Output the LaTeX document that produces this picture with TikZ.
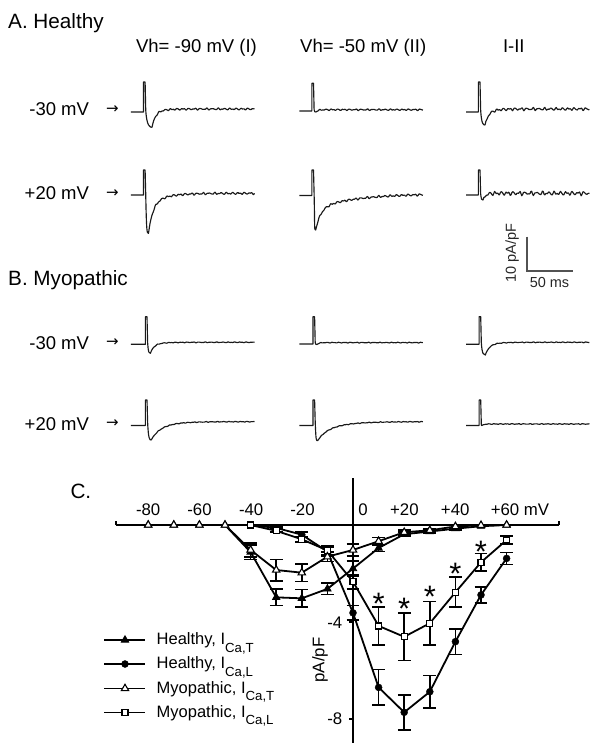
\documentclass[tikz,border=0pt]{standalone}
\usepackage{fontspec}
\setmainfont{Liberation Sans}
\newfontfamily\dejavu{DejaVu Sans}
\usetikzlibrary{shapes.geometric}
\newcommand\myfs[1]{\fontsize{#1}{#1}\selectfont}
\newcommand\mysub[1]{\raisebox{-7.5pt}{\myfs{13.2}#1}}
\newcommand\na{1}
\newcommand\trace[9]{%
 \draw[trace] (#1,#3) -- (#2,#3) -- (#2,#5) -- ({#2+1.6},#5) -- ({#2+2.2},#4)
   .. controls ({#2+3},#7) and ({#6-1.5},#7) .. (#6,#7)
   -- plot[domain=#6:#8, samples=130] (\x,{#4+(#7-#4)*rec(\x-#6,#9)+\na*nz(\x-#6+#6/50)*(1-exp(-min((\x-#6)/2,9)))});}
\newcommand\ebars[1]{%
 \foreach \v/\m/\e in #1 {%
   \ifdim\e pt>0pt
    \draw[ebar] (\v,{\m-\e}) -- (\v,{\m+\e});
    \draw[ebar] ({\v-2.5},{\m+\e}) -- ({\v+2.5},{\m+\e});
    \draw[ebar] ({\v-2.5},{\m-\e}) -- ({\v+2.5},{\m-\e});
   \fi
 }}
\tikzset{
 trace/.style={line width=1.15pt, black!90, line join=round},
 dline/.style={line width=1.8pt, black, line join=round},
 ebar/.style={line width=1.7pt, black},
 axisl/.style={line width=1.9pt, black},
 ftri/.style={regular polygon, regular polygon sides=3, fill=black, draw=black, line width=0.8pt, minimum size=8.5pt, inner sep=0pt},
 otri/.style={regular polygon, regular polygon sides=3, fill=white, draw=black, line width=1.1pt, minimum size=8.5pt, inner sep=0pt},
 fcirc/.style={circle, fill=black, draw=black, minimum size=7pt, inner sep=0pt},
 osq/.style={rectangle, fill=white, draw=black, line width=1.2pt, minimum size=6pt, inner sep=0pt},
 title/.style={inner sep=0pt, font=\myfs{20.7}},
 head/.style={inner sep=0pt, font=\myfs{18.5}},
 arr/.style={inner sep=0pt, font=\dejavu\myfs{15}},
 tick/.style={inner sep=0pt, font=\myfs{16.8}},
 legt/.style={inner sep=0pt, font=\myfs{16.5}},
 sbar/.style={line width=1.8pt, black!68},
 sblbl/.style={inner sep=0pt, font=\myfs{14.5}, black!85},
 starmark/.style={inner sep=0pt, font=\myfs{31}},
}
\begin{document}
\begin{tikzpicture}[x=1pt, y=-1pt,
  declare function={rec(\tx,\wx,\px,\qx)=\wx*exp(-min(\tx/\px,9))+(1-\wx)*exp(-min(\tx/\qx,9));
                    nz(\tx)=sin(61*\tx)+0.6*sin(97*\tx+40)+0.4*sin(127*\tx+75);}]
\useasboundingbox (0,0) rectangle (600,751);

% ---------- Panel A ----------
\node[title, anchor=base west] (tA) at (8,28.5) {A. Healthy};
\node[head, anchor=base] (h1) at (196.5,52.3) {Vh= -90 mV (I)};
\node[head, anchor=base] (h2) at (363.2,52.3) {Vh= -50 mV (II)};
\node[head, anchor=base] (h3) at (513.8,52.3) {I-II};
\node[head, anchor=base east] (ra1) at (89.2,116) {-30 mV};
\node[head, anchor=base east] (ra2) at (89.2,200) {+20 mV};
\node[arr] (aa1) at (112.5,109.3) {→};
\node[arr] (aa2) at (112.5,193.3) {→};

\renewcommand\na{0.6}
\trace{130.9}{143.5}{112}{109}{82}{152}{127.3}{254.5}{0.85,3.5,10}
\renewcommand\na{0.5}
\trace{299.3}{311.9}{111}{109.7}{83.3}{316}{112}{422.9}{1,2,2}
\renewcommand\na{0.9}
\trace{466.1}{478.4}{112}{109}{82}{485}{125}{589.4}{0.85,3.5,10}
\renewcommand\na{0.7}
\trace{130.9}{143.5}{195}{193.3}{170}{148.5}{233.3}{254.5}{0.75,4.5,16}
\trace{299.3}{311.9}{195.5}{193.7}{170}{315.7}{230}{422.9}{0.6,5,40}
\renewcommand\na{1.3}
\trace{466.1}{478.4}{195}{193.3}{170}{483}{200}{589.4}{1,2.5,2.5}

% scale bar
\coordinate (sbt) at (526.7,236.7);
\coordinate (sbc) at (526.7,270.7);
\coordinate (sbr) at (572.7,270.7);
\draw[sbar] (sbt) -- (sbc) -- (sbr);
\node[sblbl, rotate=90] (sbv) at (512,253) {10 pA/pF};
\node[sblbl] (sbh) at (549.5,282.7) {50 ms};

% ---------- Panel B ----------
\node[title, anchor=base west] (tB) at (8,285.3) {B. Myopathic};
\node[head, anchor=base east] (rb1) at (89.2,349) {-30 mV};
\node[head, anchor=base east] (rb2) at (89.2,430.7) {+20 mV};
\node[arr] (ab1) at (112.5,342.3) {→};
\node[arr] (ab2) at (112.5,424) {→};

\renewcommand\na{0.25}
\trace{130.9}{145.4}{344.3}{342.3}{316.7}{150.4}{353.3}{254.5}{0.8,3.5,10}
\trace{299.3}{313}{344}{342.6}{316.7}{317}{344.5}{422.9}{1,2,2}
\trace{466.1}{479.1}{344.3}{342.3}{316.7}{485.3}{355}{589.4}{0.8,4,10}
\trace{130.9}{145.4}{425.5}{421.7}{400}{151.2}{440}{254.5}{0.5,8,15}
\trace{299.3}{313}{425.5}{421.7}{400}{317.6}{440.7}{422.9}{0.4,8,20}
\trace{466.1}{479.1}{425.5}{424}{400}{482}{425.5}{589.4}{1,2,2}

% ---------- Panel C ----------
\node[title, anchor=base west] (tC) at (70.3,498.5) {C.};
\node[tick, anchor=base] (xl1) at (148.2,515.4) {-80};
\node[tick, anchor=base] (xl2) at (199.5,515.4) {-60};
\node[tick, anchor=base] (xl3) at (251.2,515.4) {-40};
\node[tick, anchor=base] (xl4) at (302.5,515.4) {-20};
\node[tick, anchor=base] (xl5) at (363,515.4) {0};
\node[tick, anchor=base] (xl6) at (404.4,515.4) {+20};
\node[tick, anchor=base] (xl7) at (455.2,515.4) {+40};
\node[tick, anchor=base west] (xl8) at (490.6,515.4) {+60 mV};
\node[tick, anchor=east] (yl4) at (342.5,623) {-4};
\node[tick, anchor=east] (yl8) at (342.5,719) {-8};
\node[tick, rotate=90] (ylab) at (320,660) {pA/pF};

\def\dHT{-80/0/0,-70/0/0,-60/0/0,-50/0/0,-40/-1.12/0.3,-30/-2.99/0.34,-20/-3.03/0.36,-10/-2.64/0.23,0/-1.8/0.3,10/-0.95/0.15,20/-0.38/0.1,30/-0.27/0.08,40/-0.15/0.05,50/-0.05/0,60/0/0}
\def\dMT{-80/0/0,-70/0/0,-60/0/0,-50/0/0,-40/-1.03/0.3,-30/-1.86/0.44,-20/-1.97/0.37,-10/-1.31/0.2,0/-1.03/0.25,10/-0.67/0.15,20/-0.3/0.1,30/-0.22/0.08,40/-0.06/0.05,50/-0.01/0,60/0/0}
\def\dHL{-40/0/0,-30/-0.12/0.05,-20/-0.4/0.1,-10/-1.1/0.2,0/-3.63/0.3,10/-6.71/0.74,20/-7.74/0.73,30/-6.89/0.67,40/-4.82/0.53,50/-2.89/0.34,60/-1.38/0.25}
\def\dML{-40/0/0,-30/-0.24/0.05,-20/-0.59/0.1,-10/-1.05/0.2,0/-2.34/0.3,10/-4.17/0.79,20/-4.62/0.98,30/-4.06/0.9,40/-2.78/0.62,50/-1.54/0.36,60/-0.62/0.17}

\begin{scope}[shift={(353pt,-525pt)}, x=2.56pt, y=24.2pt]
 % axes
 \coordinate (xa0) at (-92.5,0);
 \coordinate (xa1) at (80.4,0);
 \coordinate (ya0) at (0,1.94);
 \coordinate (ya1) at (0,-9.0);
 \coordinate (yt4) at (0,-4);
 \coordinate (yt8) at (0,-8);
 \draw[axisl] (xa0) -- (xa1);
 \draw[axisl] (ya0) -- (ya1);
 \draw[axisl] (xa0) -- ++(0pt,4pt);
 \draw[axisl] (xa1) -- ++(0pt,4pt);
 \draw[axisl] (yt4) -- ++(-4.5pt,0pt);
 \draw[axisl] (yt8) -- ++(-4.5pt,0pt);

 % coordinates
 \foreach \v/\m/\e [count=\i] in \dHT {\coordinate (ht\i) at (\v,\m);}
 \foreach \v/\m/\e [count=\i] in \dMT {\coordinate (mt\i) at (\v,\m);}
 \foreach \v/\m/\e [count=\i] in \dHL {\coordinate (hl\i) at (\v,\m);}
 \foreach \v/\m/\e [count=\i] in \dML {\coordinate (ml\i) at (\v,\m);}

 % lines
 \draw[dline] (ht1) \foreach \i in {2,...,15} {-- (ht\i)};
 \draw[dline] (mt1) \foreach \i in {2,...,15} {-- (mt\i)};
 \draw[dline] (hl1) \foreach \i in {2,...,11} {-- (hl\i)};
 \draw[dline] (ml1) \foreach \i in {2,...,11} {-- (ml\i)};

 % error bars
 \ebars{\dHT}
 \ebars{\dMT}
 \ebars{\dHL}
 \ebars{\dML}

 % markers
 \foreach \i in {1,...,15} {\node[ftri] (mht\i) at (ht\i) {};}
 \foreach \i in {1,...,11} {\node[fcirc] (mhl\i) at (hl\i) {};}
 \foreach \i in {1,...,11} {\node[osq] (mml\i) at (ml\i) {};}
 \foreach \i in {1,...,15} {\node[otri] (mmt\i) at (mt\i) {};}

 % significance stars
 \node[starmark, anchor=north] (st1) at (10,-2.82) {*};
 \node[starmark, anchor=north] (st2) at (20,-3.02) {*};
 \node[starmark, anchor=north] (st3) at (30,-2.52) {*};
 \node[starmark, anchor=north] (st4) at (40,-1.58) {*};
 \node[starmark, anchor=north] (st5) at (50,-0.66) {*};
\end{scope}

% legend
\coordinate (la1) at (104,640);   \coordinate (lb1) at (145,640);
\coordinate (la2) at (104,664);   \coordinate (lb2) at (145,664);
\coordinate (la3) at (104,688.5); \coordinate (lb3) at (145,688.5);
\coordinate (la4) at (104,712.5); \coordinate (lb4) at (145,712.5);
\draw[line width=2.6pt] (la1) -- (lb1);
\draw[line width=2.6pt] (la2) -- (lb2);
\draw[line width=1.9pt] (la3) -- (lb3);
\draw[line width=1.9pt] (la4) -- (lb4);
\node[ftri] (lm1) at (125,640) {};
\node[fcirc] (lm2) at (125,664) {};
\node[otri] (lm3) at (125,688.5) {};
\node[osq] (lm4) at (125,712.5) {};
\node[legt, anchor=base west] (lt1) at (156.5,644.5) {Healthy, I\mysub{Ca,T}};
\node[legt, anchor=base west] (lt2) at (156.5,668.5) {Healthy, I\mysub{Ca,L}};
\node[legt, anchor=base west] (lt3) at (156.5,693) {Myopathic, I\mysub{Ca,T}};
\node[legt, anchor=base west] (lt4) at (156.5,717) {Myopathic, I\mysub{Ca,L}};
\end{tikzpicture}
\end{document}
